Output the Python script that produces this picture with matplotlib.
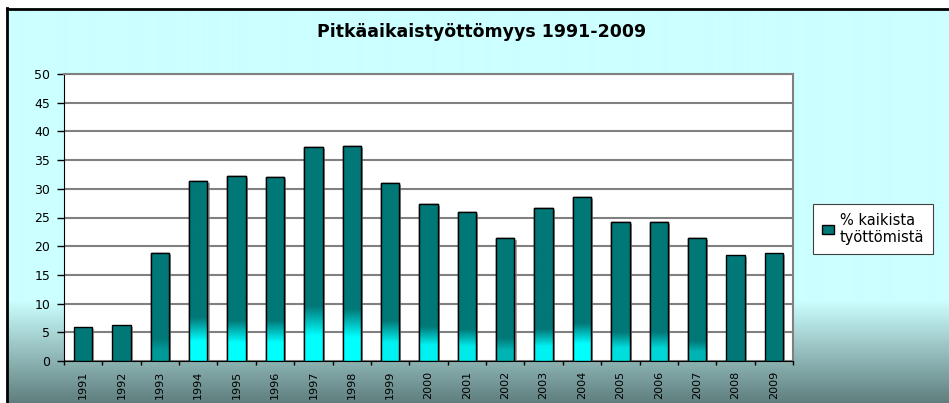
import numpy as np
import matplotlib
matplotlib.use('Agg')
import matplotlib.pyplot as plt
from matplotlib.patches import Rectangle
import matplotlib.patheffects as pe

# DejaVu is wider than Arial, closer to the stretched look of the original
plt.rcParams['font.family'] = ['DejaVu Sans']

years = ['1991', '1992', '1993', '1994', '1995', '1996', '1997', '1998', '1999', '2000',
         '2001', '2002', '2003', '2004', '2005', '2006', '2007', '2008', '2009']
share = [6.0, 6.3, 18.9, 31.4, 32.2, 32.1, 37.3, 37.5, 31.0, 27.3,
         26.0, 21.5, 26.6, 28.6, 24.2, 24.2, 21.5, 18.4, 18.9]

title = 'Pitkäaikaistyöttömyys 1991-2009'
series_label = '% kaikista\ntyöttömistä'

# how far up the cyan shine goes in each bar and how strong it is (look only)
glow_top = [0, 0, 4, 7.5, 7, 7, 9.5, 9, 7, 6, 5.5, 4, 5.5, 6.5, 5, 5, 3.5, 0, 0]
glow_amt = [0, 0, 0.25, 1, 1, 1, 1, 1, 0.9, 0.9, 0.85, 0.45, 0.9, 1, 0.75, 0.7, 0.45, 0, 0]

W, H = 949, 403
teal = np.array([0, 120, 120]) / 255
cyan = np.array([0, 255, 255]) / 255

fig = plt.figure(figsize=(W / 100, H / 100), dpi=100)
fig.patch.set_facecolor('white')

# background with the grey fade at the bottom
bg = fig.add_axes([0, 0, 1, 1], zorder=-5)
bg.set_xlim(0, W)
bg.set_ylim(H, 0)
bg.axis('off')
rows = np.arange(8, H)
top_c = np.array([204, 255, 255]) / 255
bot_c = np.array([95, 125, 125]) / 255
f = np.clip((rows - 300) / (H - 300), 0, 1)[:, None]
grad = top_c * (1 - f) + bot_c * f
bg.imshow(grad[:, None, :], extent=[7, W, H, 8], aspect='auto', interpolation='bilinear')
bg.plot([7, W], [8.5, 8.5], color='black', lw=2)
bg.plot([7.5, 7.5], [8, H], color='black', lw=2)

ax = fig.add_axes([64 / W, (H - 361) / H, (793 - 64) / W, (361 - 74) / H])
ax.set_facecolor('white')
x = np.arange(len(years))
bars = ax.bar(x, share, width=0.48, color=teal, edgecolor='black', linewidth=1, zorder=3,
              path_effects=[pe.SimplePatchShadow(offset=(1.5, -1.5), shadow_rgbFace='gray', alpha=0.7),
                            pe.Normal()])

for b, v, h, a in zip(bars, share, glow_top, glow_amt):
    if a == 0:
        continue
    yy = np.linspace(v, 0, 200)
    t = a * np.clip((h - yy) / (0.55 * h), 0, 1)
    col = teal[None, :] * (1 - t[:, None]) + cyan[None, :] * t[:, None]
    bx = b.get_x()
    im = ax.imshow(col[:, None, :], extent=[bx, bx + b.get_width(), 0, v],
                   aspect='auto', zorder=3.5, interpolation='bilinear')
    im.set_clip_path(b)
    ax.add_patch(Rectangle((bx, 0), b.get_width(), v, fill=False, edgecolor='black', lw=1, zorder=4))

ax.set_xlim(-0.5, len(years) - 0.5)
ax.set_ylim(0, 50)
ax.set_yticks(np.arange(0, 51, 5))
ax.yaxis.grid(True, color='#808080', lw=1.5, zorder=0)
ax.set_axisbelow(True)
ax.set_xticks(x)
ax.set_xticklabels(years, rotation=90, fontsize=8)
ax.set_xticks(np.arange(-0.5, len(years), 1), minor=True)
ax.tick_params(axis='x', which='major', length=0, pad=7)
ax.tick_params(axis='x', which='minor', length=3, width=1, direction='out', color='black')
ax.tick_params(axis='y', length=5, width=1, labelsize=9, color='black', pad=5)
for s in ['top', 'right']:
    ax.spines[s].set_color('#808080')
    ax.spines[s].set_linewidth(1.5)
ax.spines['left'].set_color('black')
ax.spines['bottom'].set_color('black')

fig.text(482 / W, 1 - 32 / H, title, ha='center', va='center', fontsize=12.5, fontweight='bold')

leg = ax.legend([bars[0]], [series_label], loc='upper left', bbox_to_anchor=(813 / W, 1 - 204 / H),
                bbox_transform=fig.transFigure, borderaxespad=0, fontsize=10.5, frameon=True,
                fancybox=False, framealpha=1, edgecolor='#404040', handlelength=0.85,
                handleheight=0.6, handletextpad=0.4, borderpad=0.6, labelspacing=0.1)
leg.get_frame().set_linewidth(0.8)
leg.legend_handles[0].set_path_effects([])

fig.savefig('out.png', dpi=100)
